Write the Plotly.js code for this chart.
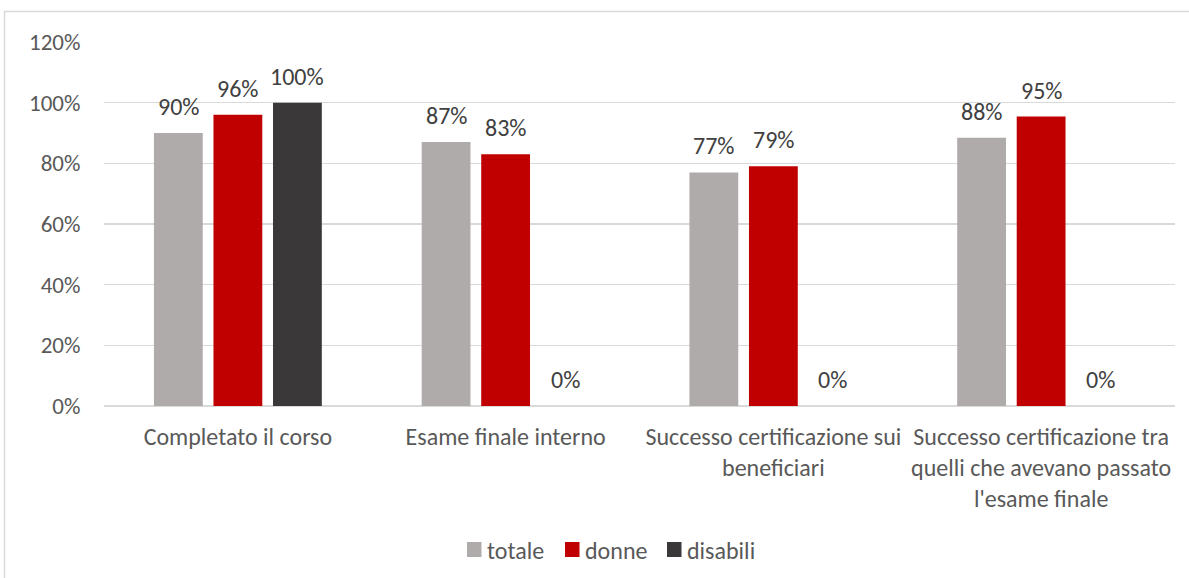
<!DOCTYPE html>
<html><head><meta charset="utf-8">
<script src="https://cdn.plot.ly/plotly-3.0.1.min.js"></script>
<style>html,body{margin:0;padding:0;background:#fff;}#chart{width:1189px;height:578px;}</style>
</head><body><div id="chart"></div>
<script>
const categories = ["Completato il corso", "Esame finale interno", "Successo certificazione sui<br>beneficiari", "Successo certificazione tra<br>quelli che avevano passato<br>l'esame finale"];
const totale = [0.90, 0.87, 0.77, 0.884];
const donne = [0.96, 0.83, 0.79, 0.954];
const disabili = [1.00, 0, 0, 0];
const seriesNames = ["totale", "donne", "disabili"];
const colors = ["#AFABAB", "#C00000", "#3A3838"];

const W = 1189, H = 578, L = 104, R = 14, T = 42, B = 172;
const pw = W - L - R, ph = H - T - B;
const px = v => (v - L) / pw;
const py = v => (H - B - v) / ph;
const BARGAP = 0.333, GROUPGAP = 0.18;

const FAM = "Carlito, Calibri, Lato, 'Open Sans', sans-serif";
const font = {family: FAM, size: 24, color: "#595959"};
const series = [totale, donne, disabili];
const traces = series.map((vals, i) => ({
  type: "bar", x: categories, y: vals, name: seriesNames[i],
  marker: {color: colors[i]},
  hoverinfo: "none", showlegend: false
}));

const shapes = [{type: "rect", xref: "paper", yref: "paper",
            x0: px(4.5), x1: px(1200), y0: py(600), y1: py(11.5),
            line: {color: "#D9D9D9", width: 1.5}, fillcolor: "rgba(0,0,0,0)", layer: "below"}];
const annotations = [];

// data labels, placed on the category axis at each bar's slot
const slot = (1 - BARGAP) / series.length;
series.forEach((vals, j) => {
  vals.forEach((v, i) => {
    annotations.push({xref: "x", yref: "y", x: i + (j - (series.length - 1) / 2) * slot, y: v,
      xanchor: "center", yanchor: "bottom", yshift: 10, showarrow: false,
      text: Math.round(v * 100) + "%",
      font: {family: FAM, size: 24, color: "#404040"}});
  });
});

// custom legend (square + label)
const legX = [467, 565, 667];
const legY = 549.5;
seriesNames.forEach((n, i) => {
  shapes.push({type: "rect", xref: "paper", yref: "paper",
    x0: px(legX[i]), x1: px(legX[i] + 14.5), y0: py(legY + 7.5), y1: py(legY - 7.5),
    line: {width: 0}, fillcolor: colors[i]});
  annotations.push({xref: "paper", yref: "paper", x: px(legX[i] + 18), y: py(legY + 1),
    xanchor: "left", yanchor: "middle", showarrow: false, text: n,
    font: {family: FAM, size: 24, color: "#595959"}});
});

const layout = {
  width: W, height: H,
  margin: {l: L, r: R, t: T, b: B},
  paper_bgcolor: "#fff", plot_bgcolor: "#fff",
  font: font,
  barmode: "group", bargap: BARGAP, bargroupgap: GROUPGAP,
  showlegend: false,
  xaxis: {type: "category", showgrid: false, zeroline: false, showline: false,
          ticks: "outside", ticklen: 9, tickcolor: "rgba(0,0,0,0)",
          tickfont: {family: FAM, size: 24, color: "#595959"}},
  yaxis: {range: [0, 1.2], dtick: 0.2, tickformat: ".0%", showgrid: true, gridcolor: "#D9D9D9", gridwidth: 1.3,
          zeroline: true, zerolinecolor: "#D9D9D9", zerolinewidth: 1.3, showline: false,
          ticks: "outside", ticklen: 18, tickcolor: "rgba(0,0,0,0)",
          tickfont: {family: FAM, size: 23, color: "#595959"}},
  shapes: shapes,
  annotations: annotations
};
Plotly.newPlot("chart", traces, layout, {displayModeBar: false, staticPlot: true});
</script></body></html>
